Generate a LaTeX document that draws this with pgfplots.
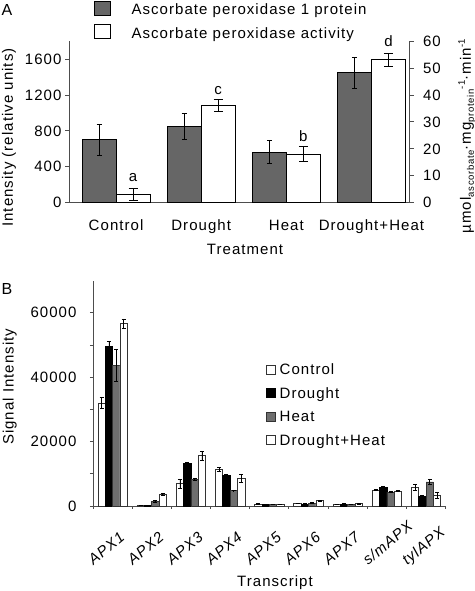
\documentclass[border=0pt]{standalone}
\usepackage{fontspec}
\setmainfont{Liberation Sans}[LetterSpace=7]
\usepackage{pgfplots}
\usepackage{pgfplotstable}
\pgfplotsset{compat=1.18}
\definecolor{barA}{HTML}{666666}
\definecolor{heatB}{HTML}{6E6E6E}
\definecolor{axisc}{HTML}{4D4D4D}

% Panel A
\pgfplotstableread{
x y e
0 700 170
1 845 145
2 562 130
3 1448 175
}\protein
\pgfplotstableread{
x y e
0 3.1 2.2
1 36.0 2.2
2 18.0 2.8
3 53.1 2.5
}\activity

% Panel B
\pgfplotstableread{
x y e
1 32000 1800
2 200 60
3 7000 1400
4 11300 700
5 600 100
6 800 100
7 500 100
8 5000 200
9 5900 900
}\ctrl
\pgfplotstableread{
x y e
1 49500 1700
2 200 60
3 13300 300
4 9400 300
5 500 80
6 600 80
7 600 80
8 5700 300
9 2900 300
}\drought
\pgfplotstableread{
x y e
1 43700 5000
2 1400 200
3 8200 300
4 4800 100
5 500 80
6 900 100
7 500 80
8 4300 200
9 7500 900
}\heat
\pgfplotstableread{
x y e
1 56700 1400
2 3600 300
3 15700 1400
4 8600 1300
5 500 80
6 1600 100
7 700 100
8 4700 200
9 3300 1000
}\dh

\newcommand{\fs}{\fontsize{15bp}{18bp}\selectfont}
\newcommand{\lsub}[1]{\raisebox{-3bp}{\fontsize{9.5bp}{10bp}\selectfont #1}}
\newcommand{\lsup}[1]{\raisebox{6bp}{\fontsize{9.5bp}{10bp}\selectfont #1}}

\pgfplotsset{
  common/.style={
    scale only axis, clip=false,
    /pgf/number format/assume math mode=true,
    /pgf/number format/set thousands separator={},
    tick align=outside,
    axis line style={axisc, line width=1bp},
    tick style={axisc, line width=1bp},
  },
}

\begin{document}
\begin{tikzpicture}[font=\fs]
\path[use as bounding box] (0,0) rectangle (475bp,591bp);

\node[anchor=base west, font=\fontsize{16bp}{18bp}\selectfont, inner sep=0pt] at (1.5bp,575bp) {A};
\node[anchor=base west, font=\fontsize{16bp}{18bp}\selectfont, inner sep=0pt] at (1.5bp,296bp) {B};

% ---------- Panel A, left axis ----------
\begin{axis}[common,
  at={(69bp,388.3bp)}, anchor=south west,
  width=340.5bp, height=161.4bp,
  xmin=-0.553, xmax=3.447, ymin=0, ymax=1800,
  ybar=0pt, bar width=34bp,
  axis x line*=bottom, axis y line*=left,
  xtick={0,1,2,3}, xticklabels={Control,Drought,Heat,Drought+Heat},
  major x tick style={draw=none},
  xticklabel style={anchor=base, yshift=-24.3bp},
  ytick={0,400,800,1200,1600},
  major tick length=4bp,
  xlabel={Treatment},
  xlabel style={at={(axis description cs:0.517,-0.324)}, anchor=base},
  ylabel={Intensity (relative units)},
  ylabel style={at={(axis description cs:-0.176,0.404)}, anchor=center},
  legend image code/.code={\draw[#1] (0bp,-4.5bp) rectangle (15.7bp,9.5bp);},
  legend cell align=left,
  legend style={at={(axis description cs:0.0734,1.2494)}, anchor=north west,
    draw=none, fill=none, inner sep=0pt, outer sep=0pt,
    row sep=6.5bp, column sep=21bp,
    nodes={inner sep=0pt, text height=11bp, text depth=3bp, anchor=west}},
]
\addplot[fill=barA, draw=black, line width=0.9bp,
  error bars/.cd, y dir=both, y explicit,
  error bar style={black, line width=1bp},
  error mark options={rotate=90, black, line width=1bp, mark size=2.5bp}]
  table[x=x, y=y, y error=e]{\protein};
\addlegendentry{Ascorbate peroxidase 1 protein}
\addlegendimage{fill=white, draw=black, line width=0.9bp}
\addlegendentry{Ascorbate peroxidase activity}
% placeholder slot for the activity bars (drawn on the right axis)
\addplot[draw=none, fill=none] coordinates {(0,0)};
\end{axis}

% ---------- Panel A, right axis ----------
\begin{axis}[common,
  at={(69bp,388.3bp)}, anchor=south west,
  width=340.5bp, height=161.4bp,
  xmin=-0.553, xmax=3.447, ymin=0, ymax=60,
  ybar=0pt, bar width=34bp,
  axis x line=none, axis y line*=right,
  ytick={0,10,...,60},
  major tick length=4bp,
  yticklabel style={xshift=6bp},
  ylabel={\textmu mol\lsub{ascorbate}·mg\lsub{protein}\lsup{-1}·min\lsup{-1}},
  ylabel style={at={(axis description cs:1.169,0.413)}, anchor=center},
]
% placeholder slot for the protein bars (drawn on the left axis)
\addplot[draw=none, fill=none] coordinates {(0,0)};
\addplot[fill=white, draw=black, line width=0.9bp,
  error bars/.cd, y dir=both, y explicit,
  error bar style={black, line width=1bp},
  error mark options={rotate=90, black, line width=1bp, mark size=4.5bp}]
  table[x=x, y=y, y error=e]{\activity};
\node[anchor=base] at ([xshift=17bp]axis cs:0,7.8) {a};
\node[anchor=base] at ([xshift=17bp]axis cs:1,40.4) {c};
\node[anchor=base] at ([xshift=17bp]axis cs:2,22.7) {b};
\node[anchor=base] at ([xshift=17bp]axis cs:3,58.0) {d};
\end{axis}

% ---------- Panel B ----------
\begin{axis}[common,
  at={(93bp,85bp)}, anchor=south west,
  width=352.7bp, height=225.4bp,
  xmin=0.5, xmax=9.5, ymin=0, ymax=70000,
  ybar=0pt, bar width=7.35bp,
  axis x line*=bottom, axis y line*=left,
  xtick={1,...,9},
  xticklabels={APX1,APX2,APX3,APX4,APX5,APX6,APX7,s/mAPX,tylAPX},
  major x tick style={draw=none},
  minor xtick={0.5,1.5,...,9.5},
  xticklabel style={font=\fs\itshape, inner sep=0pt, anchor=base west, xshift=-19bp, yshift=-57bp, rotate=40},
  ytick={0,20000,40000,60000},
  minor ytick={10000,30000,50000},
  scaled y ticks=false,
  yticklabel style={xshift=-10bp},
  major tick length=3bp, minor tick length=3bp,
  xlabel={Transcript},
  xlabel style={at={(axis description cs:0.516,-0.359)}, anchor=base},
  ylabel={Signal Intensity},
  ylabel style={at={(axis description cs:-0.236,0.529)}, anchor=center},
  legend image code/.code={\draw[#1] (0bp,-3.15bp) rectangle (9bp,5.85bp);},
  legend cell align=left,
  legend style={at={(axis description cs:0.4904,0.631)}, anchor=north west,
    draw=none, fill=none, inner sep=0pt, outer sep=0pt,
    row sep=9.5bp, column sep=4bp,
    nodes={inner sep=0pt, text height=11bp, text depth=3bp, anchor=west}},
  error bars/y dir=both, error bars/y explicit,
  error bars/error bar style={black, line width=0.8bp},
  error bars/error mark options={rotate=90, black, line width=0.8bp, mark size=2bp},
]
\addplot[fill=white, draw=black!80, line width=0.7bp] table[x=x, y=y, y error=e]{\ctrl};
\addlegendentry{Control}
\addplot[fill=black, draw=black, line width=0.7bp] table[x=x, y=y, y error=e]{\drought};
\addlegendentry{Drought}
\addplot[fill=heatB, draw=black!80, line width=0.7bp] table[x=x, y=y, y error=e]{\heat};
\addlegendentry{Heat}
\addplot[fill=white, draw=black!80, line width=0.7bp] table[x=x, y=y, y error=e]{\dh};
\addlegendentry{Drought+Heat}
\end{axis}
\end{tikzpicture}
\end{document}
